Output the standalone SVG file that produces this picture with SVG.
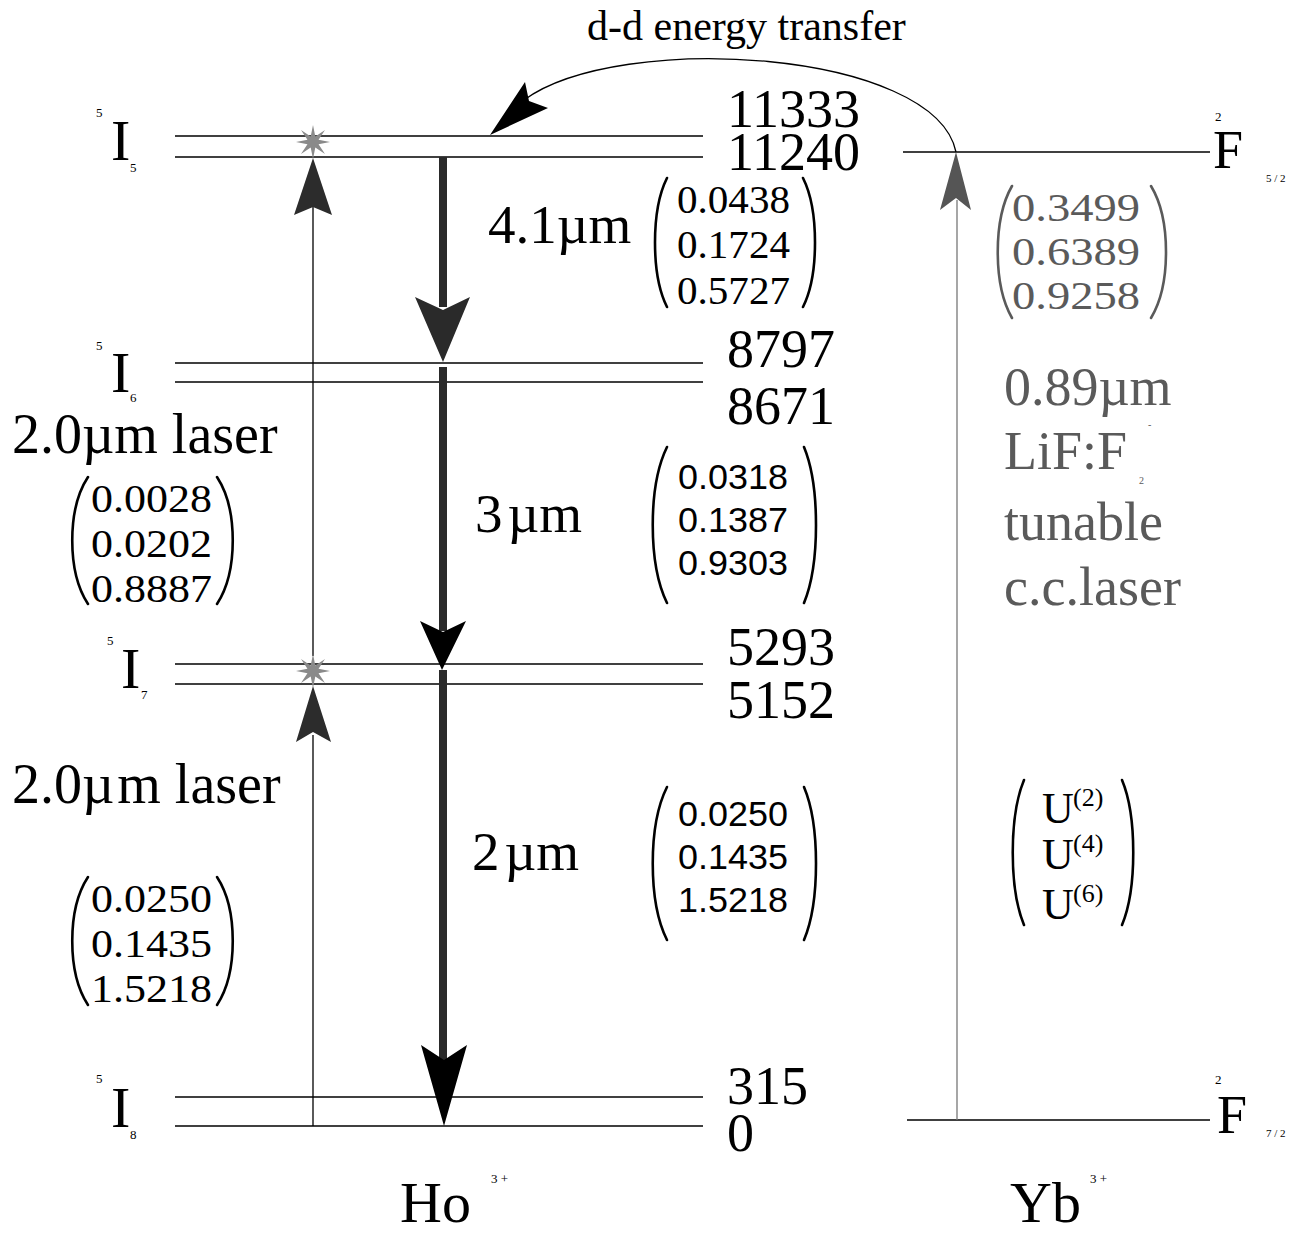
<svg xmlns="http://www.w3.org/2000/svg" width="1308" height="1234" viewBox="0 0 1308 1234">
<style>
text{font-family:"Liberation Serif","Times New Roman",serif;fill:#000}
.lvl{stroke:#000;stroke-width:1.6;fill:none}
.num{font-size:54px}
.big{font-size:58px}
.sm{font-size:13px}
.mx{font-size:41px}
.sans{font-family:"Liberation Sans",Arial,sans-serif;font-size:35px}
.par{stroke:#000;stroke-width:2.6;fill:none;stroke-linecap:round}
.gray{fill:#5a5a5a}
.gpar{stroke:#5a5a5a;stroke-width:2.6;fill:none;stroke-linecap:round}
.lab{font-size:55px}
.thin{stroke:#000;stroke-width:1.3;fill:none}
.star{fill:#8a8a8a}
</style>
<defs>
<polygon id="star" points="17,0 5.54,2.3 12,12 2.3,5.54 0,17 -2.3,5.54 -12,12 -5.54,2.3 -17,0 -5.54,-2.3 -12,-12 -2.3,-5.54 0,-17 2.3,-5.54 12,-12 5.54,-2.3"/>
</defs>
<rect width="1308" height="1234" fill="#fff"/>

<!-- Ho levels -->
<g id="ho-5I5">
<line class="lvl" x1="175" y1="136" x2="703" y2="136"/>
<line class="lvl" x1="175" y1="157" x2="703" y2="157"/>
<text class="sm" x="96" y="117">5</text>
<text class="big" x="111" y="160">I</text>
<text class="sm" x="130" y="172">5</text>
<text class="num" x="727" y="127">11333</text>
<text class="num" x="727" y="170">11240</text>
</g>
<g id="ho-5I6">
<line class="lvl" x1="175" y1="363" x2="703" y2="363"/>
<line class="lvl" x1="175" y1="382" x2="703" y2="382"/>
<text class="sm" x="96" y="350">5</text>
<text class="big" x="111" y="392">I</text>
<text class="sm" x="130" y="402">6</text>
<text class="num" x="727" y="367">8797</text>
<text class="num" x="727" y="424">8671</text>
</g>
<g id="ho-5I7">
<line class="lvl" x1="175" y1="664" x2="703" y2="664"/>
<line class="lvl" x1="175" y1="684" x2="703" y2="684"/>
<text class="sm" x="107" y="645">5</text>
<text class="big" x="121" y="688">I</text>
<text class="sm" x="141" y="699">7</text>
<text class="num" x="727" y="665">5293</text>
<text class="num" x="727" y="718">5152</text>
</g>
<g id="ho-5I8">
<line class="lvl" x1="175" y1="1097" x2="703" y2="1097"/>
<line class="lvl" x1="175" y1="1126" x2="703" y2="1126"/>
<text class="sm" x="96" y="1083">5</text>
<text class="big" x="111" y="1127">I</text>
<text class="sm" x="130" y="1139">8</text>
<text class="num" x="727" y="1104">315</text>
<text class="num" x="727" y="1151">0</text>
</g>

<!-- Yb levels -->
<g id="yb-2F52">
<line class="lvl" x1="903" y1="152" x2="1210" y2="152"/>
<text class="sm" x="1215" y="121">2</text>
<text style="font-size:54px" x="1213" y="168">F</text>
<text style="font-size:11px" x="1266" y="182">5 / 2</text>
</g>
<g id="yb-2F72">
<line class="lvl" x1="907" y1="1120" x2="1210" y2="1120"/>
<text class="sm" x="1215" y="1084">2</text>
<text style="font-size:54px" x="1217" y="1133">F</text>
<text style="font-size:11px" x="1266" y="1137">7 / 2</text>
</g>

<!-- ion labels -->
<g id="ion-ho">
<text class="big" x="400" y="1222">Ho</text>
<text class="sm" x="491" y="1183">3 +</text>
</g>
<g id="ion-yb">
<text class="big" x="1010" y="1222">Yb</text>
<text class="sm" x="1090" y="1183">3 +</text>
</g>

<!-- connectors -->
<g id="connectors">
<path class="thin" d="M956 152 C935 50 620 30 524 100"/>
<polygon points="490,135 525,82 529,101 548,108" fill="#000"/>
<line class="thin" x1="313" y1="1126" x2="313" y2="735"/>
<polygon points="313,686 296,742 313,732 331,742" fill="#2c2c2c"/>
<line class="thin" x1="313" y1="656" x2="313" y2="205"/>
<polygon points="313,158 294,215 313,207 332,215" fill="#2c2c2c"/>
<use href="#star" class="star" x="313" y="142"/>
<use href="#star" class="star" x="313" y="671"/>
<line x1="957" y1="1120" x2="957" y2="200" stroke="#777" stroke-width="1.3"/>
<polygon points="956,152 940,210 956,198 971,210" fill="#555"/>
<rect x="439" y="157" width="8" height="150" fill="#2a2a2a"/>
<polygon points="443,362 415,297 443,310 470,297" fill="#2a2a2a"/>
<rect x="439" y="367" width="8" height="264" fill="#2a2a2a"/>
<polygon points="442,670 420,621 443,632 466,621" fill="#000"/>
<rect x="439" y="670" width="8" height="390" fill="#2a2a2a"/>
<polygon points="444,1126 421,1045 444,1060 467,1045" fill="#000"/>
</g>

<!-- labels -->
<g id="label-dd">
<text x="587" y="40" style="font-size:42px">d-d energy transfer</text>
</g>

<g id="label-41um">
<text class="lab" x="488" y="243">4.1µm</text>
<path class="par" d="M667,178 C651,210 651,275 667,307"/>
<path class="par" d="M803,178 C819,210 819,275 803,307"/>
<text class="mx" x="677" y="213" textLength="113" lengthAdjust="spacingAndGlyphs">0.0438</text>
<text class="mx" x="677" y="258" textLength="113" lengthAdjust="spacingAndGlyphs">0.1724</text>
<text class="mx" x="677" y="304" textLength="113" lengthAdjust="spacingAndGlyphs">0.5727</text>
</g>

<g id="label-3um">
<text class="lab" x="475" y="532">3<tspan dx="5">µm</tspan></text>
<path class="par" d="M667,447 C648,486 648,564 667,603"/>
<path class="par" d="M804,447 C820,486 820,564 804,603"/>
<text class="sans" x="678" y="489" textLength="110" lengthAdjust="spacingAndGlyphs">0.0318</text>
<text class="sans" x="678" y="532" textLength="110" lengthAdjust="spacingAndGlyphs">0.1387</text>
<text class="sans" x="678" y="575" textLength="110" lengthAdjust="spacingAndGlyphs">0.9303</text>
</g>

<g id="label-2um">
<text class="lab" x="472" y="870">2<tspan dx="5">µm</tspan></text>
<path class="par" d="M667,787 C648,825 648,902 667,940"/>
<path class="par" d="M804,787 C820,825 820,902 804,940"/>
<text class="sans" x="678" y="826" textLength="110" lengthAdjust="spacingAndGlyphs">0.0250</text>
<text class="sans" x="678" y="869" textLength="110" lengthAdjust="spacingAndGlyphs">0.1435</text>
<text class="sans" x="678" y="912" textLength="110" lengthAdjust="spacingAndGlyphs">1.5218</text>
</g>

<g id="label-laser-top">
<text class="lab" x="12" y="453" style="font-size:56px">2.0µm laser</text>
<path class="par" d="M88,477 C67,509 67,572 88,604"/>
<path class="par" d="M217,477 C238,509 238,572 217,604"/>
<text class="mx" x="91" y="512" textLength="121" lengthAdjust="spacingAndGlyphs">0.0028</text>
<text class="mx" x="91" y="557" textLength="121" lengthAdjust="spacingAndGlyphs">0.0202</text>
<text class="mx" x="91" y="602" textLength="121" lengthAdjust="spacingAndGlyphs">0.8887</text>
</g>

<g id="label-laser-bottom">
<text class="lab" x="12" y="803" style="font-size:56px">2.0µ<tspan dx="3">m laser</tspan></text>
<path class="par" d="M88,877 C67,909 67,973 88,1005"/>
<path class="par" d="M217,877 C238,909 238,973 217,1005"/>
<text class="mx" x="91" y="912" textLength="121" lengthAdjust="spacingAndGlyphs">0.0250</text>
<text class="mx" x="91" y="957" textLength="121" lengthAdjust="spacingAndGlyphs">0.1435</text>
<text class="mx" x="91" y="1002" textLength="121" lengthAdjust="spacingAndGlyphs">1.5218</text>
</g>

<g id="label-yb">
<path class="gpar" d="M1012,186 C993,219 993,285 1012,318"/>
<path class="gpar" d="M1151,186 C1171,219 1171,285 1151,318"/>
<text class="mx gray" x="1012" y="221" textLength="128" lengthAdjust="spacingAndGlyphs">0.3499</text>
<text class="mx gray" x="1012" y="265" textLength="128" lengthAdjust="spacingAndGlyphs">0.6389</text>
<text class="mx gray" x="1012" y="309" textLength="128" lengthAdjust="spacingAndGlyphs">0.9258</text>
<text class="gray" x="1004" y="405" style="font-size:54px">0.89µm</text>
<text class="gray" x="1004" y="469" style="font-size:54px">LiF:F</text>
<text class="gray" x="1139" y="484" style="font-size:10px">2</text>
<text class="gray" x="1148" y="428" style="font-size:10px">-</text>
<text class="gray" x="1004" y="540" style="font-size:54px">tunable</text>
<text class="gray" x="1004" y="605" style="font-size:54px">c.c.laser</text>
</g>

<g id="label-U">
<path class="par" d="M1024,780 C1009,816 1009,889 1024,925"/>
<path class="par" d="M1122,780 C1137,816 1137,889 1122,925"/>
<text x="1042" y="823" style="font-size:44px">U</text>
<text x="1073" y="806" style="font-size:26px">(2)</text>
<text x="1042" y="869" style="font-size:44px">U</text>
<text x="1073" y="852" style="font-size:26px">(4)</text>
<text x="1042" y="919" style="font-size:44px">U</text>
<text x="1073" y="902" style="font-size:26px">(6)</text>
</g>
</svg>
